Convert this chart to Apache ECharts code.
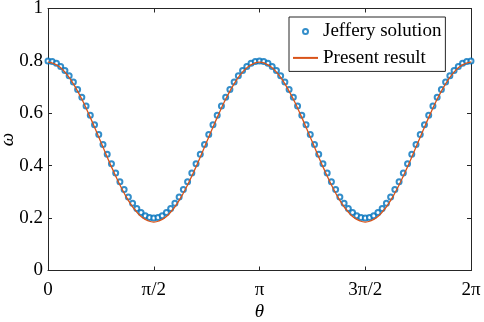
<!DOCTYPE html>
<html><head><meta charset="utf-8">
<script src="https://cdn.jsdelivr.net/npm/echarts@6/dist/echarts.min.js"></script>
<style>html,body{margin:0;padding:0;background:#fff}#c{width:484px;height:322px}</style>
</head><body><div id="c"></div>
<script>
// theta in degrees (0..360 shown as 0..2π)
var xTicks = [0, 90, 180, 270, 360];
var xTickLabels = ['0', 'π/2', 'π', '3π/2', '2π'];
var yTicks = [0, 0.2, 0.4, 0.6, 0.8, 1];

var jefferyTheta = [0,3.6,7.2,10.8,14.4,18,21.6,25.2,28.8,32.4,36,39.6,43.2,46.8,50.4,54,57.6,61.2,64.8,68.4,72,75.6,79.2,82.8,86.4,90,93.6,97.2,100.8,104.4,108,111.6,115.2,118.8,122.4,126,129.6,133.2,136.8,140.4,144,147.6,151.2,154.8,158.4,162,165.6,169.2,172.8,176.4,180,183.6,187.2,190.8,194.4,198,201.6,205.2,208.8,212.4,216,219.6,223.2,226.8,230.4,234,237.6,241.2,244.8,248.4,252,255.6,259.2,262.8,266.4,270,273.6,277.2,280.8,284.4,288,291.6,295.2,298.8,302.4,306,309.6,313.2,316.8,320.4,324,327.6,331.2,334.8,338.4,342,345.6,349.2,352.8,356.4,360];
var jefferyOmega = [0.800,0.798,0.791,0.779,0.763,0.743,0.719,0.691,0.661,0.628,0.593,0.556,0.519,0.481,0.444,0.407,0.372,0.339,0.309,0.281,0.257,0.237,0.221,0.209,0.202,0.200,0.202,0.209,0.221,0.237,0.257,0.281,0.309,0.339,0.372,0.407,0.444,0.481,0.519,0.556,0.593,0.628,0.661,0.691,0.719,0.743,0.763,0.779,0.791,0.798,0.800,0.798,0.791,0.779,0.763,0.743,0.719,0.691,0.661,0.628,0.593,0.556,0.519,0.481,0.444,0.407,0.372,0.339,0.309,0.281,0.257,0.237,0.221,0.209,0.202,0.200,0.202,0.209,0.221,0.237,0.257,0.281,0.309,0.339,0.372,0.407,0.444,0.481,0.519,0.556,0.593,0.628,0.661,0.691,0.719,0.743,0.763,0.779,0.791,0.798,0.800];

var presentTheta = [0,5,10,15,20,25,30,35,40,45,50,55,60,65,70,75,80,85,90,95,100,105,110,115,120,125,130,135,140,145,150,155,160,165,170,175,180,185,190,195,200,205,210,215,220,225,230,235,240,245,250,255,260,265,270,275,280,285,290,295,300,305,310,315,320,325,330,335,340,345,350,355,360];
var presentOmega = [0.795,0.790,0.777,0.754,0.724,0.686,0.643,0.594,0.543,0.490,0.437,0.386,0.338,0.294,0.256,0.226,0.203,0.190,0.185,0.190,0.203,0.226,0.256,0.294,0.338,0.386,0.437,0.490,0.543,0.594,0.643,0.686,0.724,0.754,0.777,0.790,0.795,0.790,0.777,0.754,0.724,0.686,0.643,0.594,0.543,0.490,0.437,0.386,0.338,0.294,0.256,0.226,0.203,0.190,0.185,0.190,0.203,0.226,0.256,0.294,0.338,0.386,0.437,0.490,0.543,0.594,0.643,0.686,0.724,0.754,0.777,0.790,0.795];

function pairs(xs, ys){ var o=[]; for(var i=0;i<xs.length;i++) o.push([xs[i], ys[i]]); return o; }

var FONT = '"Liberation Serif", "Times New Roman", serif';
var FS = 19;
var AX = '#262626';
var chart = echarts.init(document.getElementById('c'), null, {renderer:'canvas'});
var baseX = {
  type:'value', min:0, max:360, interval:90,
  axisLine:{show:true, onZero:false, lineStyle:{color:AX, width:1}},
  axisTick:{show:true, inside:true, length:4, lineStyle:{color:AX}},
  splitLine:{show:false}
};
var baseY = {
  type:'value', min:0, max:1, interval:0.2,
  axisLine:{show:true, onZero:false, lineStyle:{color:AX, width:1}},
  axisTick:{show:true, inside:true, length:4, lineStyle:{color:AX}},
  splitLine:{show:false}
};
chart.setOption({
  animation:false,
  backgroundColor:'#fff',
  grid:{left:48, right:13, top:8.5, bottom:51.5, containLabel:false, outerBoundsMode:'none'},
  legend:{
    data:[{name:'Jeffery solution'}, {name:'Present result', itemStyle:{opacity:0}}],
    orient:'vertical', left:289, top:17,
    padding:[5,4,4,3], itemGap:7.4, itemWidth:25, itemHeight:5,
    borderColor:AX, borderWidth:1, backgroundColor:'#fff',
    textStyle:{fontFamily:FONT, fontSize:FS, color:'#000', lineHeight:19}
  },
  xAxis:[
    Object.assign({}, baseX, {position:'bottom',
      name:'θ', nameLocation:'middle', nameGap:32, nameMoveOverlap:false,
      nameTextStyle:{fontFamily:FONT, fontSize:FS, fontStyle:'italic', color:'#000'},
      axisLabel:{show:true, margin:10, fontFamily:FONT, fontSize:FS, color:'#000',
        formatter:function(v){ var i=xTicks.indexOf(v); return i>=0?xTickLabels[i]:''; }}}),
    Object.assign({}, baseX, {position:'top', axisLabel:{show:false}})
  ],
  yAxis:[
    Object.assign({}, baseY, {position:'left',
      name:'ω', nameLocation:'middle', nameGap:31, nameMoveOverlap:false,
      nameTextStyle:{fontFamily:FONT, fontSize:FS, fontStyle:'italic', color:'#000'},
      axisLabel:{show:true, margin:5, fontFamily:FONT, fontSize:FS, color:'#000',
        formatter:function(v){ return yTicks.indexOf(v)>=0 ? String(+v.toFixed(1)) : ''; }}}),
    Object.assign({}, baseY, {position:'right', axisLabel:{show:false}})
  ],
  series:[
    {name:'Jeffery solution', type:'scatter', xAxisIndex:0, yAxisIndex:0,
     symbol:'emptyCircle', symbolSize:5,
     itemStyle:{color:'#0072BD', borderColor:'#0072BD', borderWidth:1.3},
     data:pairs(jefferyTheta, jefferyOmega), z:2},
    {name:'Present result', type:'line', xAxisIndex:0, yAxisIndex:0,
     symbol:'none', smooth:true,
     lineStyle:{color:'#D95319', width:1.3}, itemStyle:{color:'#D95319'},
     data:pairs(presentTheta, presentOmega), z:3}
  ]
});
</script></body></html>
